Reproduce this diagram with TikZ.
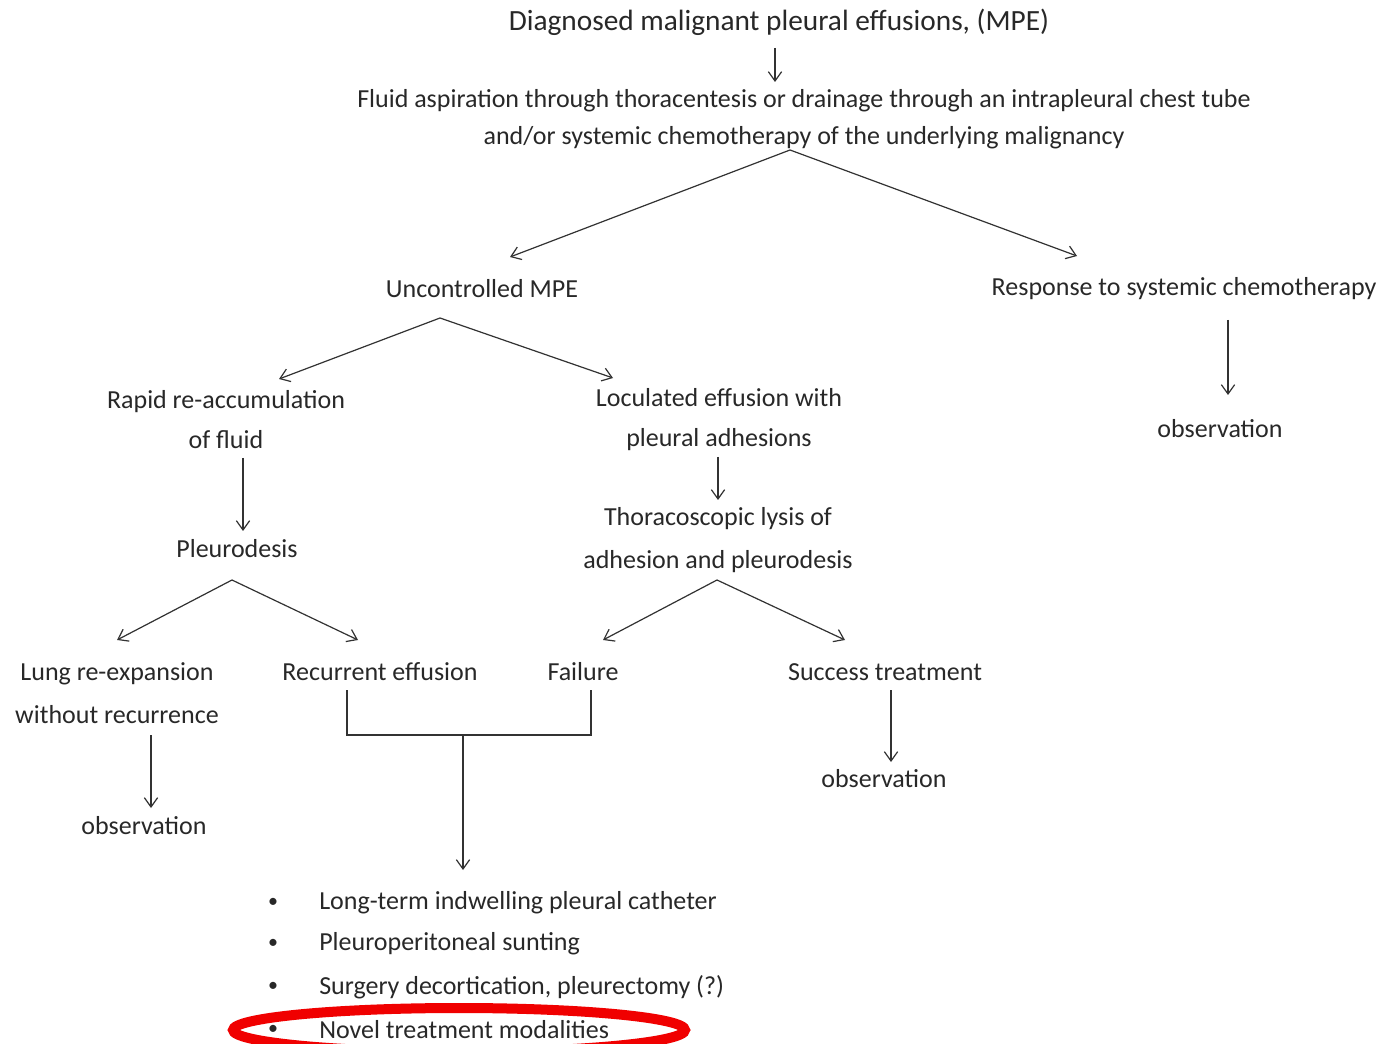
\documentclass[tikz,border=0pt]{standalone}
\usepackage{fontspec}
\setmainfont{Carlito}
\usetikzlibrary{arrows.meta}
\definecolor{txt}{RGB}{40,40,40}
\definecolor{ln}{RGB}{50,50,50}
\definecolor{ovl}{RGB}{240,0,0}
\tikzset{
  lbl/.style={text=txt, inner sep=0pt, align=center, font=\fontsize{19.5}{30}\selectfont},
  conn/.style={draw=ln, line width=0.9pt, -{Straight Barb[length=7pt,width=10pt,line width=0.9pt]}},
  plain/.style={draw=ln, line width=0.9pt}
}
\begin{document}
\begin{tikzpicture}[x=0.75pt,y=-0.75pt]
\useasboundingbox (0,0) rectangle (1392,1044);
\fill[white] (0,0) rectangle (1392,1044);
% nodes
\node[lbl, font=\fontsize{22}{30}\selectfont] (mpe) at (779,22) {Diagnosed malignant pleural effusions, (MPE)};
\node[lbl, font=\fontsize{19.5}{28}\selectfont] (fluid) at (804,119) {Fluid aspiration through thoracentesis or drainage through an intrapleural chest tube\\and/or systemic chemotherapy of the underlying malignancy};
\node[lbl] (unc) at (482,289) {Uncontrolled MPE};
\node[lbl] (resp) at (1184,289) {Response to systemic chemotherapy};
\node[lbl] (obs1) at (1220,429) {observation};
\node[lbl] (rapid) at (226,420) {Rapid re-accumulation\\of fluid};
\node[lbl] (loc) at (719,420) {Loculated effusion with\\pleural adhesions};
\node[lbl, font=\fontsize{19.5}{32}\selectfont] (thor) at (718,540) {Thoracoscopic lysis of\\adhesion and pleurodesis};
\node[lbl] (pleu) at (237,549) {Pleurodesis};
\node[lbl, font=\fontsize{19.5}{32}\selectfont] (lung) at (117,693) {Lung re-expansion\\without recurrence};
\node[lbl] (rec) at (380,672) {Recurrent effusion};
\node[lbl] (fail) at (583,672) {Failure};
\node[lbl] (succ) at (885,672) {Success treatment};
\node[lbl] (obs2) at (884,779) {observation};
\node[lbl] (obs3) at (144,826) {observation};
% bullet list
\foreach \yy/\tt [count=\i] in {903/{Long-term indwelling pleural catheter},944/{Pleuroperitoneal sunting},987/{Surgery decortication, pleurectomy (?)},1030/{Novel treatment modalities}}{
  \node[lbl, anchor=center, font=\fontsize{15}{20}\selectfont] (b\i) at (273,\yy) {•};
  \node[lbl, anchor=west] (t\i) at (319,\yy) {\tt};
}
% coordinates
\coordinate (s1) at (790,150);
\coordinate (s2) at (440,318);
\coordinate (s3) at (232,580);
\coordinate (s4) at (717,580);
\coordinate (j1) at (347,690);
\coordinate (j2) at (591,690);
\coordinate (jm) at (463,735);
\coordinate (lst) at (463,870);
% connectors
\draw[conn] (775,48) -- (775,82);
\draw[conn] (s1) -- (510,257);
\draw[conn] (s1) -- (1077,256);
\draw[conn] (1228,320) -- (1228,395);
\draw[conn] (s2) -- (279,379);
\draw[conn] (s2) -- (613,378);
\draw[conn] (243,458) -- (243,531);
\draw[conn] (718,457) -- (718,500);
\draw[conn] (s3) -- (117,640);
\draw[conn] (s3) -- (358,640);
\draw[conn] (s4) -- (603,640);
\draw[conn] (s4) -- (845,640);
\draw[conn] (891,690) -- (891,762);
\draw[conn] (151,735) -- (151,808);
\draw[plain] (j1) |- (jm) -| (j2);
\draw[conn] (jm) -- (lst);
% red ellipse
\draw[ovl, line width=7.5pt] (459,1030) ellipse [x radius=226, y radius=22];
\end{tikzpicture}
\end{document}
